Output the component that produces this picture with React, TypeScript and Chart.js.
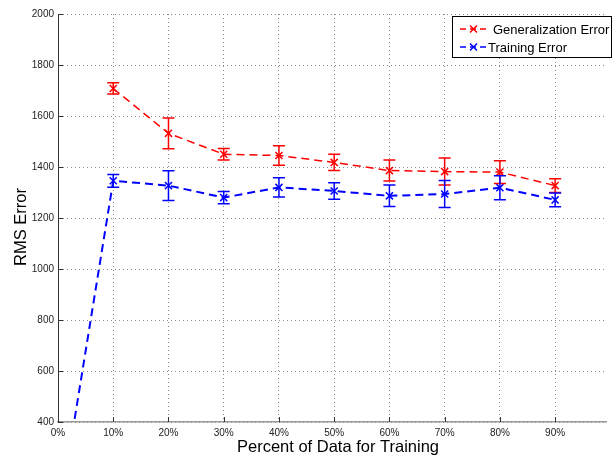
import React, { useEffect, useRef } from "react";
import { Chart, registerables } from "chart.js";

Chart.register(...registerables);

const percents = [10, 20, 30, 40, 50, 60, 70, 80, 90];
const genError = [1708, 1532, 1450, 1445, 1418, 1386, 1382, 1380, 1327];
const genErrBar = [22, 60, 23, 38, 32, 41, 53, 45, 27];
const trainStartPercent = 0;
const trainStartValue = 10;
const trainError = [1346, 1327, 1280, 1320, 1306, 1287, 1294, 1319, 1271];
const trainErrBar = [25, 58, 24, 38, 32, 42, 53, 47, 27];
const yTicks = [400, 600, 800, 1000, 1200, 1400, 1600, 1800, 2000];
const xTicks = [0, 10, 20, 30, 40, 50, 60, 70, 80, 90];

const FONT = "'Liberation Sans', Arial, Helvetica, sans-serif";

const errorBarPlugin = {
  id: "errorBars",
  afterDatasetsDraw(chart: any) {
    const { ctx, chartArea } = chart;
    const xs = chart.scales.x;
    const ys = chart.scales.y;
    ctx.save();
    ctx.beginPath();
    ctx.rect(chartArea.left, chartArea.top, chartArea.right - chartArea.left, chartArea.bottom - chartArea.top);
    ctx.clip();
    chart.data.datasets.forEach((ds: any) => {
      const errs = ds.errors;
      if (!errs) return;
      ctx.strokeStyle = ds.borderColor;
      ctx.lineWidth = 1.5;
      ctx.setLineDash([]);
      ds.data.forEach((p: any, i: number) => {
        const e = errs[i];
        if (!e) return;
        const x = xs.getPixelForValue(p.x);
        const y1 = ys.getPixelForValue(p.y + e);
        const y2 = ys.getPixelForValue(p.y - e);
        const hw = 6;
        ctx.beginPath();
        ctx.moveTo(x, y1);
        ctx.lineTo(x, y2);
        ctx.moveTo(x - hw, y1);
        ctx.lineTo(x + hw, y1);
        ctx.moveTo(x - hw, y2);
        ctx.lineTo(x + hw, y2);
        ctx.stroke();
      });
    });
    ctx.restore();
  },
};

const decorPlugin = {
  id: "decor",
  afterDraw(chart: any) {
    const { ctx, chartArea } = chart;
    const xs = chart.scales.x;
    const ys = chart.scales.y;
    ctx.save();
    // inward tick marks
    ctx.strokeStyle = "#333";
    ctx.lineWidth = 1;
    ctx.setLineDash([]);
    ctx.beginPath();
    yTicks.forEach((v) => {
      const y = Math.round(ys.getPixelForValue(v)) + 0.5;
      ctx.moveTo(chartArea.left, y);
      ctx.lineTo(chartArea.left + 5, y);
    });
    xTicks.forEach((v) => {
      const x = Math.round(xs.getPixelForValue(v)) + 0.5;
      ctx.moveTo(x, chartArea.bottom);
      ctx.lineTo(x, chartArea.bottom - 5);
    });
    ctx.stroke();

    // axis titles
    ctx.fillStyle = "#000";
    ctx.font = `16.5px ${FONT}`;
    ctx.textAlign = "center";
    ctx.textBaseline = "alphabetic";
    ctx.fillText("Percent of Data for Training", 338, 452);
    ctx.save();
    ctx.translate(26, 227);
    ctx.rotate(-Math.PI / 2);
    ctx.fillText("RMS Error", 0, 0);
    ctx.restore();

    // legend
    const bx = 452.5, by = 16.5, bw = 159, bh = 41;
    ctx.fillStyle = "#fff";
    ctx.fillRect(bx, by, bw, bh);
    ctx.strokeStyle = "#000";
    ctx.lineWidth = 1;
    ctx.strokeRect(bx, by, bw, bh);
    const rows = chart.data.datasets.map((ds: any, i: number) => ({
      color: ds.borderColor,
      label: ds.label,
      y: i === 0 ? 29 : 47,
      tx: i === 0 ? 493 : 488,
    }));
    rows.forEach((r: any) => {
      ctx.strokeStyle = r.color;
      ctx.lineWidth = 1.5;
      ctx.setLineDash([6, 4]);
      ctx.beginPath();
      ctx.moveTo(460, r.y);
      ctx.lineTo(487, r.y);
      ctx.stroke();
      ctx.setLineDash([]);
      ctx.beginPath();
      ctx.moveTo(470, r.y - 3.5);
      ctx.lineTo(477, r.y + 3.5);
      ctx.moveTo(477, r.y - 3.5);
      ctx.lineTo(470, r.y + 3.5);
      ctx.stroke();
      ctx.fillStyle = "#000";
      ctx.font = `13px ${FONT}`;
      ctx.textAlign = "left";
      ctx.textBaseline = "middle";
      ctx.fillText(r.label, r.tx, r.y + 1);
    });
    ctx.restore();
  },
};

export default function App() {
  const ref = useRef<HTMLCanvasElement | null>(null);

  useEffect(() => {
    if (!ref.current) return;
    const genData = percents.map((p, i) => ({ x: p, y: genError[i] }));
    const trainData = [
      { x: trainStartPercent, y: trainStartValue },
      ...percents.map((p, i) => ({ x: p, y: trainError[i] })),
    ];
    const chart = new Chart(ref.current, {
      type: "line",
      data: {
        datasets: [
          {
            label: "Generalization Error",
            data: genData,
            borderColor: "#ff0000",
            backgroundColor: "#ff0000",
            borderWidth: 1.5,
            borderDash: [8, 5],
            pointStyle: "crossRot",
            pointRadius: 5,
            pointBorderWidth: 1.5,
            errors: genErrBar,
          } as any,
          {
            label: "Training Error",
            data: trainData,
            borderColor: "#0000ff",
            backgroundColor: "#0000ff",
            borderWidth: 2,
            borderDash: [8, 5],
            pointStyle: "crossRot",
            pointRadius: [0, ...percents.map(() => 5)],
            pointBorderWidth: 1.5,
            errors: [0, ...trainErrBar],
          } as any,
        ],
      },
      options: {
        animation: false,
        responsive: false,
        maintainAspectRatio: false,
        layout: { padding: { top: 14, right: 1, left: 0, bottom: 0 } },
        plugins: { legend: { display: false }, tooltip: { enabled: false } },
        scales: {
          x: {
            type: "linear",
            min: 0,
            max: 99.3,
            afterFit: (s: any) => {
              s.height = 33;
            },
            ticks: {
              stepSize: 10,
              includeBounds: false,
              autoSkip: false,
              maxRotation: 0,
              padding: 5,
              color: "#222",
              font: { family: FONT, size: 10 },
              callback: (v: any) => `${v}%`,
            },
            grid: { color: "#8a8a8a", lineWidth: 1, drawTicks: false },
            border: { display: true, color: "#999", width: 1.5, dash: [1, 3] },
          },
          y: {
            type: "linear",
            min: 400,
            max: 2000,
            afterFit: (s: any) => {
              s.width = 58;
            },
            ticks: {
              stepSize: 200,
              padding: 4,
              color: "#222",
              font: { family: FONT, size: 10 },
              callback: (v: any) => String(v),
            },
            grid: { color: "#8a8a8a", lineWidth: 1, drawTicks: false },
            border: { display: true, color: "#333", width: 1, dash: [1, 3] },
          },
        },
      },
      plugins: [errorBarPlugin, decorPlugin],
    } as any);
    return () => chart.destroy();
  }, []);

  return (
    <div style={{ position: "fixed", left: 0, top: 0, width: 613, height: 455, background: "#fff" }}>
      <canvas ref={ref} width={613} height={455} style={{ width: 613, height: 455, display: "block" }} />
    </div>
  );
}
